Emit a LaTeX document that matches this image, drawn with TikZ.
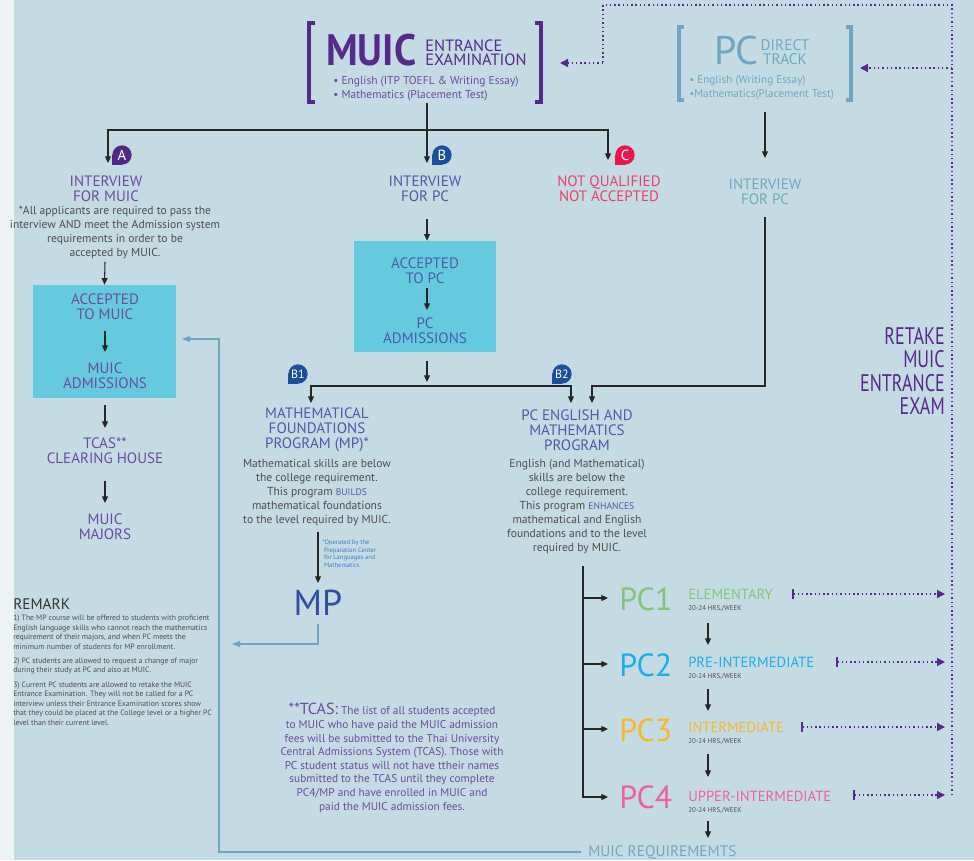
\documentclass[tikz,border=0pt]{standalone}
\usepackage{fontspec}
\setmainfont{PT Sans}
\usepackage{xcolor}
\usetikzlibrary{arrows.meta}

\definecolor{bgblue}{HTML}{C4DBE3}
\definecolor{leftstrip}{HTML}{EDF3F5}
\definecolor{boxcyan}{HTML}{66CADF}
\definecolor{muicpurple}{HTML}{552A8A}
\definecolor{lilac}{HTML}{6A4C9F}
\definecolor{pcblue}{HTML}{4A5CA8}
\definecolor{mpblue}{HTML}{2E4E9E}
\definecolor{steel}{HTML}{6EA8C0}
\definecolor{notqred}{HTML}{E8436A}
\definecolor{badgea}{HTML}{4E2A84}
\definecolor{badgeb}{HTML}{1C4E9B}
\definecolor{badgec}{HTML}{E8174B}
\definecolor{bodygray}{HTML}{4D4D4D}
\definecolor{noteblue}{HTML}{3B7DC4}
\definecolor{pcone}{HTML}{80C57A}
\definecolor{pctwo}{HTML}{1BAEE8}
\definecolor{pcthree}{HTML}{F8B82A}
\definecolor{pcfour}{HTML}{EE5FA0}

\tikzset{
  arr/.style={draw=black!85, line width=0.8pt, -{Triangle[length=5pt,width=4.5pt]}},
  steelarr/.style={draw=steel, line width=0.9pt, -{Triangle[length=6pt,width=4.5pt]}},
  retake/.style={draw=muicpurple, line width=1.1pt, dash pattern=on 1.1pt off 2.1pt, -{Triangle[length=6pt,width=6pt]}},
  retakebar/.style={retake, {Bar[width=7pt,line width=1.3pt]}-{Triangle[length=6pt,width=6pt]}},
  badge/.style={circle, fill=#1, text=white, inner sep=0pt, minimum size=14.5pt, font=\fontsize{11}{11}\selectfont},
  heading/.style={inner sep=0pt, align=center, font=\fontsize{11.3}{11.2}\selectfont},
  body/.style={inner sep=0pt, align=center, text=bodygray, font=\fontsize{8.7}{10.5}\selectfont},
  level/.style={anchor=west, inner sep=0pt, font=\fontsize{24}{24}\selectfont},
  levelname/.style={anchor=west, inner sep=0pt, font=\fontsize{11}{11}\selectfont},
  hours/.style={anchor=west, inner sep=0pt, text=bodygray, font=\fontsize{5.2}{5.2}\selectfont},
}

\begin{document}
\begin{tikzpicture}[x=0.75pt,y=0.75pt,yscale=-1,xscale=1]
%set diagram size 974 x 860
\useasboundingbox (0,0) rectangle (974,860);

%Shape: Background
\fill[leftstrip] (0,0) rectangle (14,860);
\fill[bgblue] (14,0) rectangle (974,860);

%Shape: Brackets MUIC
\draw[muicpurple, line width=3.2pt] (315,23) -- (309,23) -- (309,102) -- (315,102);
\draw[muicpurple, line width=3.2pt] (535,23) -- (541,23) -- (541,102) -- (535,102);
%Shape: Brackets PC
\draw[steel, line width=3.2pt] (684,27) -- (679,27) -- (679,100) -- (684,100);
\draw[steel, line width=3.2pt] (846,27) -- (851,27) -- (851,100) -- (846,100);

% Text Node
\draw (326,50) node (muic) [anchor=west, inner sep=0pt, text depth=0pt, text=muicpurple, font=\fontsize{33}{33}\selectfont\bfseries] {\scalebox{0.9}[1]{MUIC}};
\draw (425,53) node (entrance) [anchor=west, inner sep=0pt, align=left, text=muicpurple, font=\fontsize{12.3}{10.6}\selectfont] {ENTRANCE\\EXAMINATION};
\draw (333,89) node (muicsubj) [anchor=west, inner sep=0pt, align=left, text=lilac, font=\fontsize{8.6}{10.5}\selectfont] {\textbullet\ English (ITP TOEFL \& Writing Essay)\\\textbullet\ Mathematics (Placement Test)};
\draw (714,64) node (pc) [anchor=base west, inner sep=0pt, text depth=0pt, text=steel, font=\fontsize{30}{30}\selectfont] {PC};
\draw (785,52) node (direct) [inner sep=0pt, align=center, text=steel, font=\fontsize{11.5}{10.8}\selectfont] {DIRECT\\TRACK};
\draw (689,88) node (pcsubj) [anchor=west, inner sep=0pt, align=left, text=steel, font=\fontsize{8.4}{10.5}\selectfont] {\textbullet\ English (Writing Essay)\\\textbullet Mathematics(Placement Test)};

%Badges
\fill[badgea] (112,155) rectangle (122,165);
\draw (122,155) node (ba) [badge=badgea] {A};
\fill[badgeb] (432,155) rectangle (442,165);
\draw (442,155) node (bb) [badge=badgeb] {B};
\fill[badgec] (615,155) rectangle (625,165);
\draw (625,155) node (bc) [badge=badgec] {C};
\fill[badgeb] (288,374) rectangle (298,384);
\draw (298,374) node (bbone) [badge=badgeb, font=\fontsize{9}{9}\selectfont] {B1};
\fill[badgeb] (552,374) rectangle (562,384);
\draw (562,374) node (bbtwo) [badge=badgeb, font=\fontsize{9}{9}\selectfont] {B2};

% Text Node
\draw (106,189) node (intmuic) [heading, text=lilac] {INTERVIEW\\FOR MUIC};
\draw (115,233) node (allnote) [body, text=bodygray] {*All applicants are required to pass the\\interview AND meet the Admission system\\requirements in order to be\\accepted by MUIC.};
\draw (425,189) node (intpc) [heading, text=pcblue] {INTERVIEW\\FOR PC};
\draw (609,189) node (notq) [heading, text=notqred] {NOT QUALIFIED\\NOT ACCEPTED};
\draw (765,192) node (intdirect) [heading, text=steel] {INTERVIEW\\FOR PC};

%Shape: Rectangle
\draw (104.5,341.5) node (muicbox) [fill=boxcyan, minimum width=107.25pt, minimum height=84.75pt, inner sep=0pt] {};
\draw (105,307) node (accmuic) [heading, text=lilac] {ACCEPTED\\TO MUIC};
\draw (105,376) node (muicadm) [heading, text=lilac] {MUIC\\ADMISSIONS};
\draw (425,296.5) node (pcbox) [fill=boxcyan, minimum width=106.5pt, minimum height=83.25pt, inner sep=0pt] {};
\draw (425,271) node (accpc) [heading, text=pcblue] {ACCEPTED\\TO PC};
\draw (425,331) node (pcadm) [heading, text=pcblue] {PC\\ADMISSIONS};

% Text Node
\draw (105,451) node (tcas) [heading, text=lilac] {TCAS**\\CLEARING HOUSE};
\draw (105,527) node (majors) [heading, text=lilac] {MUIC\\MAJORS};

% Text Node
\draw (317,430) node (mfp) [heading, text=pcblue] {MATHEMATICAL\\FOUNDATIONS\\PROGRAM (MP)*};
\draw (317,493) node (mfpdesc) [body] {Mathematical skills are below\\the college requirement.\\This program {\color{pcblue}\fontsize{7.2}{10.5}\selectfont BUILDS}\\mathematical foundations\\to the level required by MUIC.};
\draw (322,540) node (operated) [anchor=north west, inner sep=0pt, align=left, text=noteblue, font=\fontsize{4.9}{5.6}\selectfont] {*Operated by the\\\ Preparation Center\\\ for Languages and\\\ Mathematics};
\draw (318,603) node (mp) [inner sep=0pt, text=mpblue, font=\fontsize{27}{27}\selectfont] {MP};
\draw (577,430) node (pcem) [heading, text=pcblue] {PC ENGLISH AND\\MATHEMATICS\\PROGRAM};
\draw (577,507) node (pcemdesc) [body] {English (and Mathematical)\\skills are below the\\college requirement.\\This program {\color{pcblue}\fontsize{7.2}{10.5}\selectfont ENHANCES}\\mathematical and English\\foundations and to the level\\required by MUIC.};

% Text Node
\draw (945,374) node (retaketxt) [anchor=east, inner sep=0pt, text=muicpurple, font=\fontsize{18}{15.6}\selectfont] {\scalebox{0.75}[1]{\begin{tabular}{@{}r@{}}RETAKE\\MUIC\\ENTRANCE\\EXAM\end{tabular}}};

% Text Node
\draw (13,604) node (remark) [anchor=west, inner sep=0pt, text=black!80, font=\fontsize{11.5}{11.5}\selectfont] {REMARK};
\draw (13,615) node (remarkbody) [anchor=north west, inner sep=0pt, align=left, text=bodygray, font=\fontsize{5.8}{7.1}\selectfont] {1) The MP course will be offered to students with proficient\\English language skills who cannot reach the mathematics\\requirement of their majors, and when PC meets the\\minimum number of students for MP enrollment.\\[3.6pt]2) PC students are allowed to request a change of major\\during their study at PC and also at MUIC.\\[3.6pt]3) Current PC students are allowed to retake the MUIC\\Entrance Examination. They will not be called for a PC\\interview unless their Entrance Examination scores show\\that they could be placed at the College level or a higher PC\\level than their current level.};

% Text Node
\draw (392,758) node (tcasnote) [inner sep=0pt, align=center, text=lilac, font=\fontsize{8.5}{10.2}\selectfont] {{\fontsize{12}{10.2}\selectfont **TCAS:} The list of all students accepted\\to MUIC who have paid the MUIC admission\\fees will be submitted to the Thai University\\Central Admissions System (TCAS). Those with\\PC student status will not have ttheir names\\submitted to the TCAS until they complete\\PC4/MP and have enrolled in MUIC and\\paid the MUIC admission fees.};

% PC levels
\draw (619,599) node (pcl1) [level, text=pcone] {PC1};
\draw (688,594) node (pcn1) [levelname, text=pcone] {ELEMENTARY};
\draw (688,609) node (pch1) [hours] {20-24 HRS./WEEK};
\draw (619,665) node (pcl2) [level, text=pctwo] {PC2};
\draw (688,662) node (pcn2) [levelname, text=pctwo] {PRE-INTERMEDIATE};
\draw (688,677) node (pch2) [hours] {20-24 HRS./WEEK};
\draw (619,730) node (pcl3) [level, text=pcthree] {PC3};
\draw (688,727) node (pcn3) [levelname, text=pcthree] {INTERMEDIATE};
\draw (688,742) node (pch3) [hours] {20-24 HRS./WEEK};
\draw (619,797) node (pcl4) [level, text=pcfour] {PC4};
\draw (688,796) node (pcn4) [levelname, text=pcfour] {UPPER-INTERMEDIATE};
\draw (688,811) node (pch4) [hours] {20-24 HRS./WEEK};
\draw (588,852) node (muicreq) [anchor=west, inner sep=0pt, text=steel, font=\fontsize{11.5}{11.5}\selectfont] {MUIC REQUIREMEMTS};

%Coordinates
\coordinate (muicfoot) at (427,103);
\coordinate (split) at (427,130);
\coordinate (pcfoot) at (765,112);
\coordinate (pcsplit) at (427,386);
\coordinate (stem) at (583,566);
\coordinate (retakeline) at (952,5);

%Straight Lines
\draw[arr] (muicfoot) -- (427,163);
\draw[arr] (split) -| (108,163);
\draw[arr] (split) -| (608,160);
\draw[arr] (105,262) -- (muicbox.north);
\draw[arr] (105,331) -- (105,352);
\draw[arr] (105,405) -- (105,428);
\draw[arr] (105,481) -- (105,503);
\draw[arr] (427,219) -- (pcbox.north -| 427,0);
\draw[arr] (427,288) -- (427,310);
\draw[arr] (427,361) -- (427,382);
\draw[arr] (pcsplit) -| (311,403);
\draw[arr] (pcsplit) -| (571,403);
\draw[arr] (pcfoot) -- (765,158);
\draw[arr] (765,217) |- (592,386) -- (592,403);
\draw[arr] (318,532) -- (318,583);

%Straight Lines steel
\draw[steelarr] (318,624) |- (232,644);
\draw[steelarr] (581,852) -| (219,339) -- (182,339);

%Straight Lines PC levels
\draw[arr] (stem) |- (608,797);
\draw[arr] (583,598) -- (608,598);
\draw[arr] (583,664) -- (608,664);
\draw[arr] (583,729) -- (608,729);
\draw[arr] (708,623) -- (708,645);
\draw[arr] (708,689) -- (708,711);
\draw[arr] (708,754) -- (708,777);
\draw[arr] (708,821) -- (708,838);

%Dotted retake lines
\draw[retake, -] (952,795) -- (retakeline) -- (603,5) -- (603,63);
\draw[retake] (603,63) -- (560,63);
\draw[retake] (952,68) -- (860,68);
\draw[retakebar] (792,594) -- (945,594);
\draw[retakebar] (836,662) -- (945,662);
\draw[retakebar] (801,727) -- (945,727);
\draw[retakebar] (853,795) -- (945,795);

\end{tikzpicture}
\end{document}
